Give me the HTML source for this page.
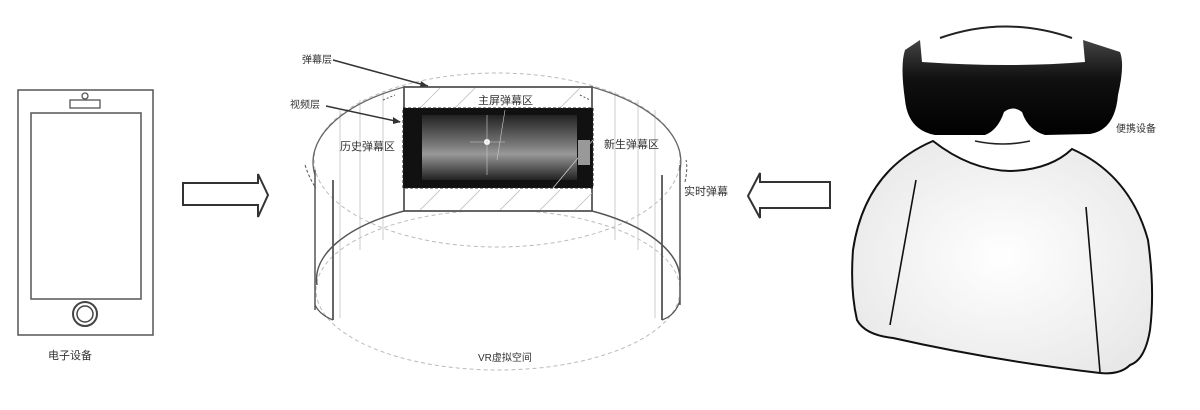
<!DOCTYPE html>
<html><head><meta charset="utf-8"><style>
html,body{margin:0;padding:0;background:#fff;}
svg{display:block}
text{font-family:"Liberation Sans","Noto Sans CJK SC",sans-serif;fill:#333;}
</style></head><body>
<svg width="1200" height="410" viewBox="0 0 1200 410" xmlns="http://www.w3.org/2000/svg">
<defs>
<linearGradient id="gl" x1="0" y1="0" x2="0" y2="1"><stop offset="0" stop-color="#444"/><stop offset="0.4" stop-color="#111"/><stop offset="1" stop-color="#000"/></linearGradient>
<radialGradient id="bd" cx="0.5" cy="0.5" r="0.6"><stop offset="0" stop-color="#fff"/><stop offset="1" stop-color="#e8e8e8"/></radialGradient>
<linearGradient id="vid" x1="0" y1="0" x2="0" y2="1"><stop offset="0" stop-color="#222"/><stop offset="0.45" stop-color="#777"/><stop offset="0.6" stop-color="#999"/><stop offset="1" stop-color="#222"/></linearGradient>
</defs>
<!-- phone -->
<rect x="18" y="90" width="135" height="245" fill="none" stroke="#555" stroke-width="1.5"/>
<rect x="31" y="113" width="110" height="186" fill="none" stroke="#555" stroke-width="1.5"/>
<rect x="70" y="100" width="30" height="8" fill="none" stroke="#555" stroke-width="1.3"/>
<circle cx="85" cy="96" r="3" fill="none" stroke="#555" stroke-width="1.3"/>
<circle cx="85" cy="314" r="12" fill="none" stroke="#444" stroke-width="2"/>
<circle cx="85" cy="314" r="8" fill="none" stroke="#444" stroke-width="1.5"/>
<text x="48" y="359" font-size="11">电子设备</text>
<!-- arrows -->
<path d="M183 183 H258 V174 L268 195 L258 217 V205 H183 Z" fill="#fff" stroke="#333" stroke-width="2"/>
<path d="M830 182 H760 V173 L748 196 L760 218 V208 H830 Z" fill="#fff" stroke="#333" stroke-width="2"/>
<!-- cylinder -->
<g fill="none" stroke="#999" stroke-width="1">
<ellipse cx="497" cy="160" rx="183" ry="87" stroke-dasharray="4 3" stroke="#bbb"/>
<ellipse cx="498" cy="290" rx="182" ry="80" stroke-dasharray="4 3" stroke="#bbb"/>
<line x1="340" y1="110" x2="340" y2="318" stroke="#ccc"/>
<line x1="360" y1="100" x2="360" y2="250" stroke="#ccc"/>
<line x1="383" y1="92" x2="383" y2="240" stroke="#ccc"/>
<line x1="615" y1="92" x2="615" y2="240" stroke="#ccc"/>
<line x1="638" y1="100" x2="638" y2="250" stroke="#ccc"/>
<line x1="655" y1="110" x2="655" y2="318" stroke="#ccc"/>
</g>
<path d="M315 175 A183 87 0 0 1 404 87 M592 87 A183 87 0 0 1 680 170" fill="none" stroke="#666" stroke-width="1.3"/>
<path d="M317 285 A182 80 0 0 1 404 211 M592 211 A182 80 0 0 1 680 280" fill="none" stroke="#555" stroke-width="1.5"/>
<line x1="315" y1="170" x2="315" y2="310" stroke="#555" stroke-width="1.5"/>
<line x1="333" y1="180" x2="333" y2="320" stroke="#555" stroke-width="1.8"/>
<line x1="680" y1="165" x2="680" y2="305" stroke="#555" stroke-width="1.5"/>
<line x1="662" y1="175" x2="662" y2="320" stroke="#555" stroke-width="1.8"/>
<path d="M315 305 Q320 315 333 320 M680 300 Q676 315 662 320" fill="none" stroke="#555" stroke-width="1.3"/>
<!-- screen panel -->
<rect x="404" y="87" width="188" height="124" fill="#fff" stroke="#555" stroke-width="1.8"/>
<g stroke="#bbb" stroke-width="0.8">
<line x1="420" y1="108" x2="440" y2="88"/><line x1="455" y1="108" x2="475" y2="88"/><line x1="560" y1="108" x2="580" y2="88"/>
<line x1="420" y1="210" x2="440" y2="190"/><line x1="460" y1="210" x2="480" y2="190"/><line x1="500" y1="210" x2="520" y2="190"/><line x1="540" y1="210" x2="560" y2="190"/><line x1="575" y1="210" x2="592" y2="193"/>
</g>
<rect x="403" y="108" width="190" height="80" fill="#111" stroke="#222" stroke-dasharray="3 2"/>
<rect x="422" y="115" width="155" height="65" fill="url(#vid)"/>
<circle cx="487" cy="142" r="3" fill="#fff"/>
<line x1="487" y1="115" x2="487" y2="175" stroke="#ccc" stroke-width="0.6"/>
<line x1="470" y1="142" x2="505" y2="142" stroke="#ccc" stroke-width="0.6"/>
<line x1="505" y1="110" x2="497" y2="160" stroke="#ccc" stroke-width="0.6"/>
<line x1="553" y1="188" x2="593" y2="140" stroke="#ccc" stroke-width="0.8"/>
<rect x="578" y="140" width="12" height="25" fill="#999"/>
<text x="478" y="104" font-size="11">主屏弹幕区</text>
<text x="340" y="150" font-size="11">历史弹幕区</text>
<text x="604" y="148" font-size="11">新生弹幕区</text>
<text x="684" y="195" font-size="11">实时弹幕</text>
<text x="302" y="63" font-size="10">弹幕层</text>
<text x="290" y="108" font-size="10">视频层</text>
<line x1="333" y1="60" x2="428" y2="86" stroke="#333" stroke-width="1.5"/>
<path d="M428 86 L421 81 L420 87 Z" fill="#333"/>
<line x1="326" y1="106" x2="400" y2="122" stroke="#333" stroke-width="1.5"/>
<path d="M401 122 L393 117 L393 124 Z" fill="#333"/>
<path d="M305 165 Q310 180 316 188 M685 182 Q688 168 686 160" fill="none" stroke="#555" stroke-dasharray="3 2"/>
<path d="M383 100 L395 95 M580 95 L590 100" stroke="#555" stroke-dasharray="2 2"/>
<text x="478" y="361" font-size="10">VR虚拟空间</text>
<!-- person -->
<path d="M933 141 Q970 170 1010 171 Q1050 170 1072 149 Q1130 175 1148 240 Q1155 290 1150 330 Q1145 360 1130 365 Q1120 375 1100 373 Q990 360 893 338 Q865 335 857 320 Q850 290 853 250 Q865 170 933 141 Z" fill="url(#bd)" stroke="#111" stroke-width="2"/>
<path d="M916 180 L890 325 M1086 207 L1100 372" stroke="#111" stroke-width="1.6" fill="none"/>
<path d="M940 38 Q1005 15 1072 38" fill="none" stroke="#222" stroke-width="2"/>
<path d="M975 141 Q1003 147 1030 141" fill="none" stroke="#222" stroke-width="1.6"/>
<path d="M905 50 L920 40 L922 62 Q1010 68 1085 62 L1083 40 L1120 52 Q1125 65 1118 95 Q1115 130 1090 134 L1045 135 Q1028 130 1022 112 Q1013 105 1004 112 Q998 130 985 135 L935 135 Q908 130 905 100 Q900 65 905 50 Z" fill="url(#gl)"/>
<text x="1116" y="132" font-size="10">便携设备</text>
</svg>
</body></html>
